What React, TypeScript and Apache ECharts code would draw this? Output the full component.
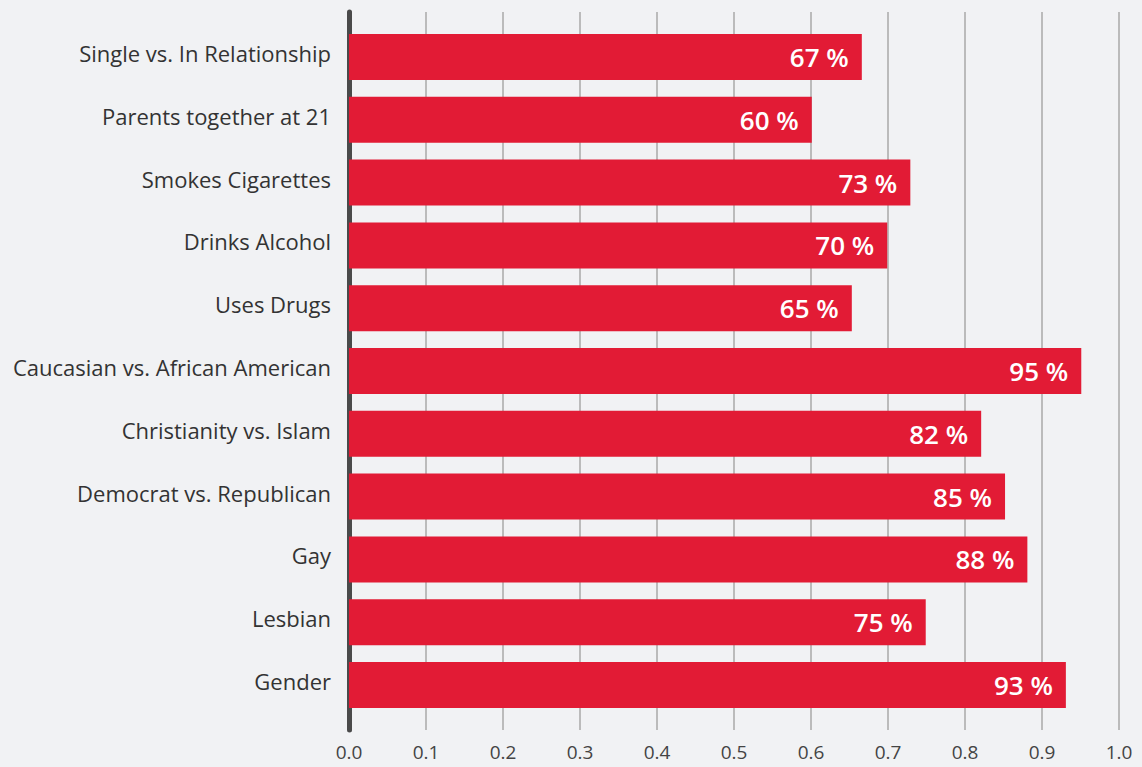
import React, { useEffect, useRef } from "react";
import * as echarts from "echarts";

const categories = [
  "Single vs. In Relationship",
  "Parents together at 21",
  "Smokes Cigarettes",
  "Drinks Alcohol",
  "Uses Drugs",
  "Caucasian vs. African American",
  "Christianity vs. Islam",
  "Democrat vs. Republican",
  "Gay",
  "Lesbian",
  "Gender",
];
const values = [0.666, 0.601, 0.729, 0.699, 0.653, 0.951, 0.821, 0.852, 0.881, 0.749, 0.931];
const xTicks = [0, 0.1, 0.2, 0.3, 0.4, 0.5, 0.6, 0.7, 0.8, 0.9, 1.0];

export default function App() {
  const ref = useRef<HTMLDivElement>(null);
  useEffect(() => {
    if (!ref.current) return;
    const chart = echarts.init(ref.current, null, { renderer: "svg" });
    const font = "'Open Sans', 'Noto Sans', sans-serif";
    chart.setOption({
      animation: false,
      backgroundColor: "#f1f2f4",
      grid: [
        { left: 349, right: 23, top: 25.6, bottom: 50.6 },
        { left: 349, right: 23, top: 12, bottom: 37 },
      ],
      xAxis: [
        { gridIndex: 0, type: "value", min: 0, max: 1, show: false },
        {
          gridIndex: 1,
          type: "value",
          min: xTicks[0],
          max: xTicks[xTicks.length - 1],
          interval: 0.1,
          axisLine: { show: false },
          axisTick: { show: false },
          axisLabel: {
            margin: 12,
            fontSize: 19,
            color: "#444",
            fontFamily: font,
            formatter: (v: number) => v.toFixed(1),
          },
          splitLine: { show: true, lineStyle: { color: "#a9a9a9", width: 1.5 } },
        },
      ],
      yAxis: [
        {
          gridIndex: 0,
          type: "category",
          data: categories,
          inverse: true,
          axisLine: { show: false },
          axisTick: { show: false },
          axisLabel: {
            margin: 18,
            fontSize: 22,
            color: "#333",
            fontFamily: font,
            verticalAlign: "bottom",
            lineHeight: 8,
          },
        },
        {
          gridIndex: 1,
          type: "value",
          min: 0,
          max: 1,
          axisLine: { show: true, lineStyle: { color: "#4a4a4a", width: 5 } },
          axisTick: { show: false },
          axisLabel: { show: false },
          splitLine: { show: false },
        },
      ],
      series: [
        {
          type: "bar",
          xAxisIndex: 0,
          yAxisIndex: 0,
          data: values,
          barWidth: 46,
          itemStyle: { color: "#e21b35" },
          z: 3,
          label: {
            show: true,
            position: "insideRight",
            distance: 13,
            color: "#fff",
            fontSize: 26,
            fontWeight: 600,
            fontFamily: font,
            padding: [4, 0, 0, 0],
            formatter: (p: any) => Math.round(p.value * 100) + " %",
          },
        },
      ],
    });
    return () => chart.dispose();
  }, []);
  return <div ref={ref} style={{ position: "fixed", left: 0, top: 0, width: 1142, height: 767 }} />;
}
